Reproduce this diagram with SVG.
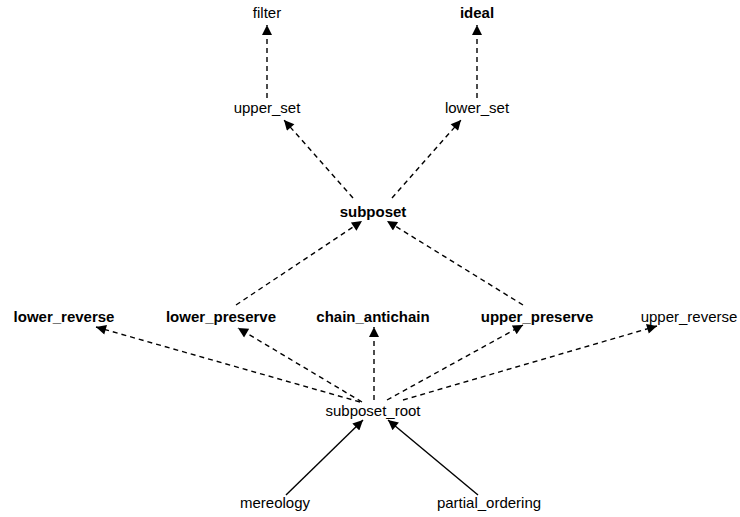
<svg xmlns="http://www.w3.org/2000/svg" width="740" height="517" viewBox="0 0 740 517">
<defs>
<marker id="ah" viewBox="0 0 10 10" refX="10" refY="5" markerWidth="12" markerHeight="10" markerUnits="userSpaceOnUse" orient="auto">
<path d="M0,0 L10,5 L0,10 Z" fill="#000"/>
</marker>
</defs>
<style>
text{font-family:"Liberation Sans",Arial,sans-serif;font-size:15px;fill:#000;text-anchor:middle}
.b{font-weight:bold}
.e{fill:none;stroke:#000;stroke-width:1.4;marker-end:url(#ah)}
.d{stroke-dasharray:5,4}
</style>
<rect width="740" height="517" fill="#fff"/>
<g id="connectors">
<line class="e d" x1="267" y1="98" x2="267" y2="25"/>
<line class="e d" x1="477" y1="98" x2="477" y2="25"/>
<line class="e d" x1="353" y1="198" x2="284" y2="120"/>
<line class="e d" x1="392" y1="198" x2="461" y2="120"/>
<line class="e d" x1="236" y1="305" x2="362" y2="221"/>
<line class="e d" x1="523" y1="305" x2="387" y2="221"/>
<line class="e d" x1="360" y1="402" x2="96" y2="327"/>
<line class="e d" x1="362" y1="402" x2="238" y2="328"/>
<line class="e d" x1="374" y1="400" x2="374" y2="327"/>
<line class="e d" x1="387" y1="400" x2="523" y2="325"/>
<line class="e d" x1="403" y1="400" x2="657" y2="326"/>
<line class="e" x1="286" y1="495" x2="363" y2="420"/>
<line class="e" x1="478" y1="495" x2="388" y2="420"/>
</g>
<g id="filter"><text x="267" y="18">filter</text></g>
<g id="ideal"><text class="b" x="477" y="18">ideal</text></g>
<g id="upper_set"><text x="267" y="113">upper_set</text></g>
<g id="lower_set"><text x="477" y="113">lower_set</text></g>
<g id="subposet"><text class="b" x="373" y="217">subposet</text></g>
<g id="lower_reverse"><text class="b" x="64" y="322">lower_reverse</text></g>
<g id="lower_preserve"><text class="b" x="221" y="322">lower_preserve</text></g>
<g id="chain_antichain"><text class="b" x="373" y="322">chain_antichain</text></g>
<g id="upper_preserve"><text class="b" x="537" y="322">upper_preserve</text></g>
<g id="upper_reverse"><text x="689" y="322">upper_reverse</text></g>
<g id="subposet_root"><text x="373" y="416">subposet_root</text></g>
<g id="mereology"><text x="275" y="508">mereology</text></g>
<g id="partial_ordering"><text x="489" y="508">partial_ordering</text></g>
</svg>
